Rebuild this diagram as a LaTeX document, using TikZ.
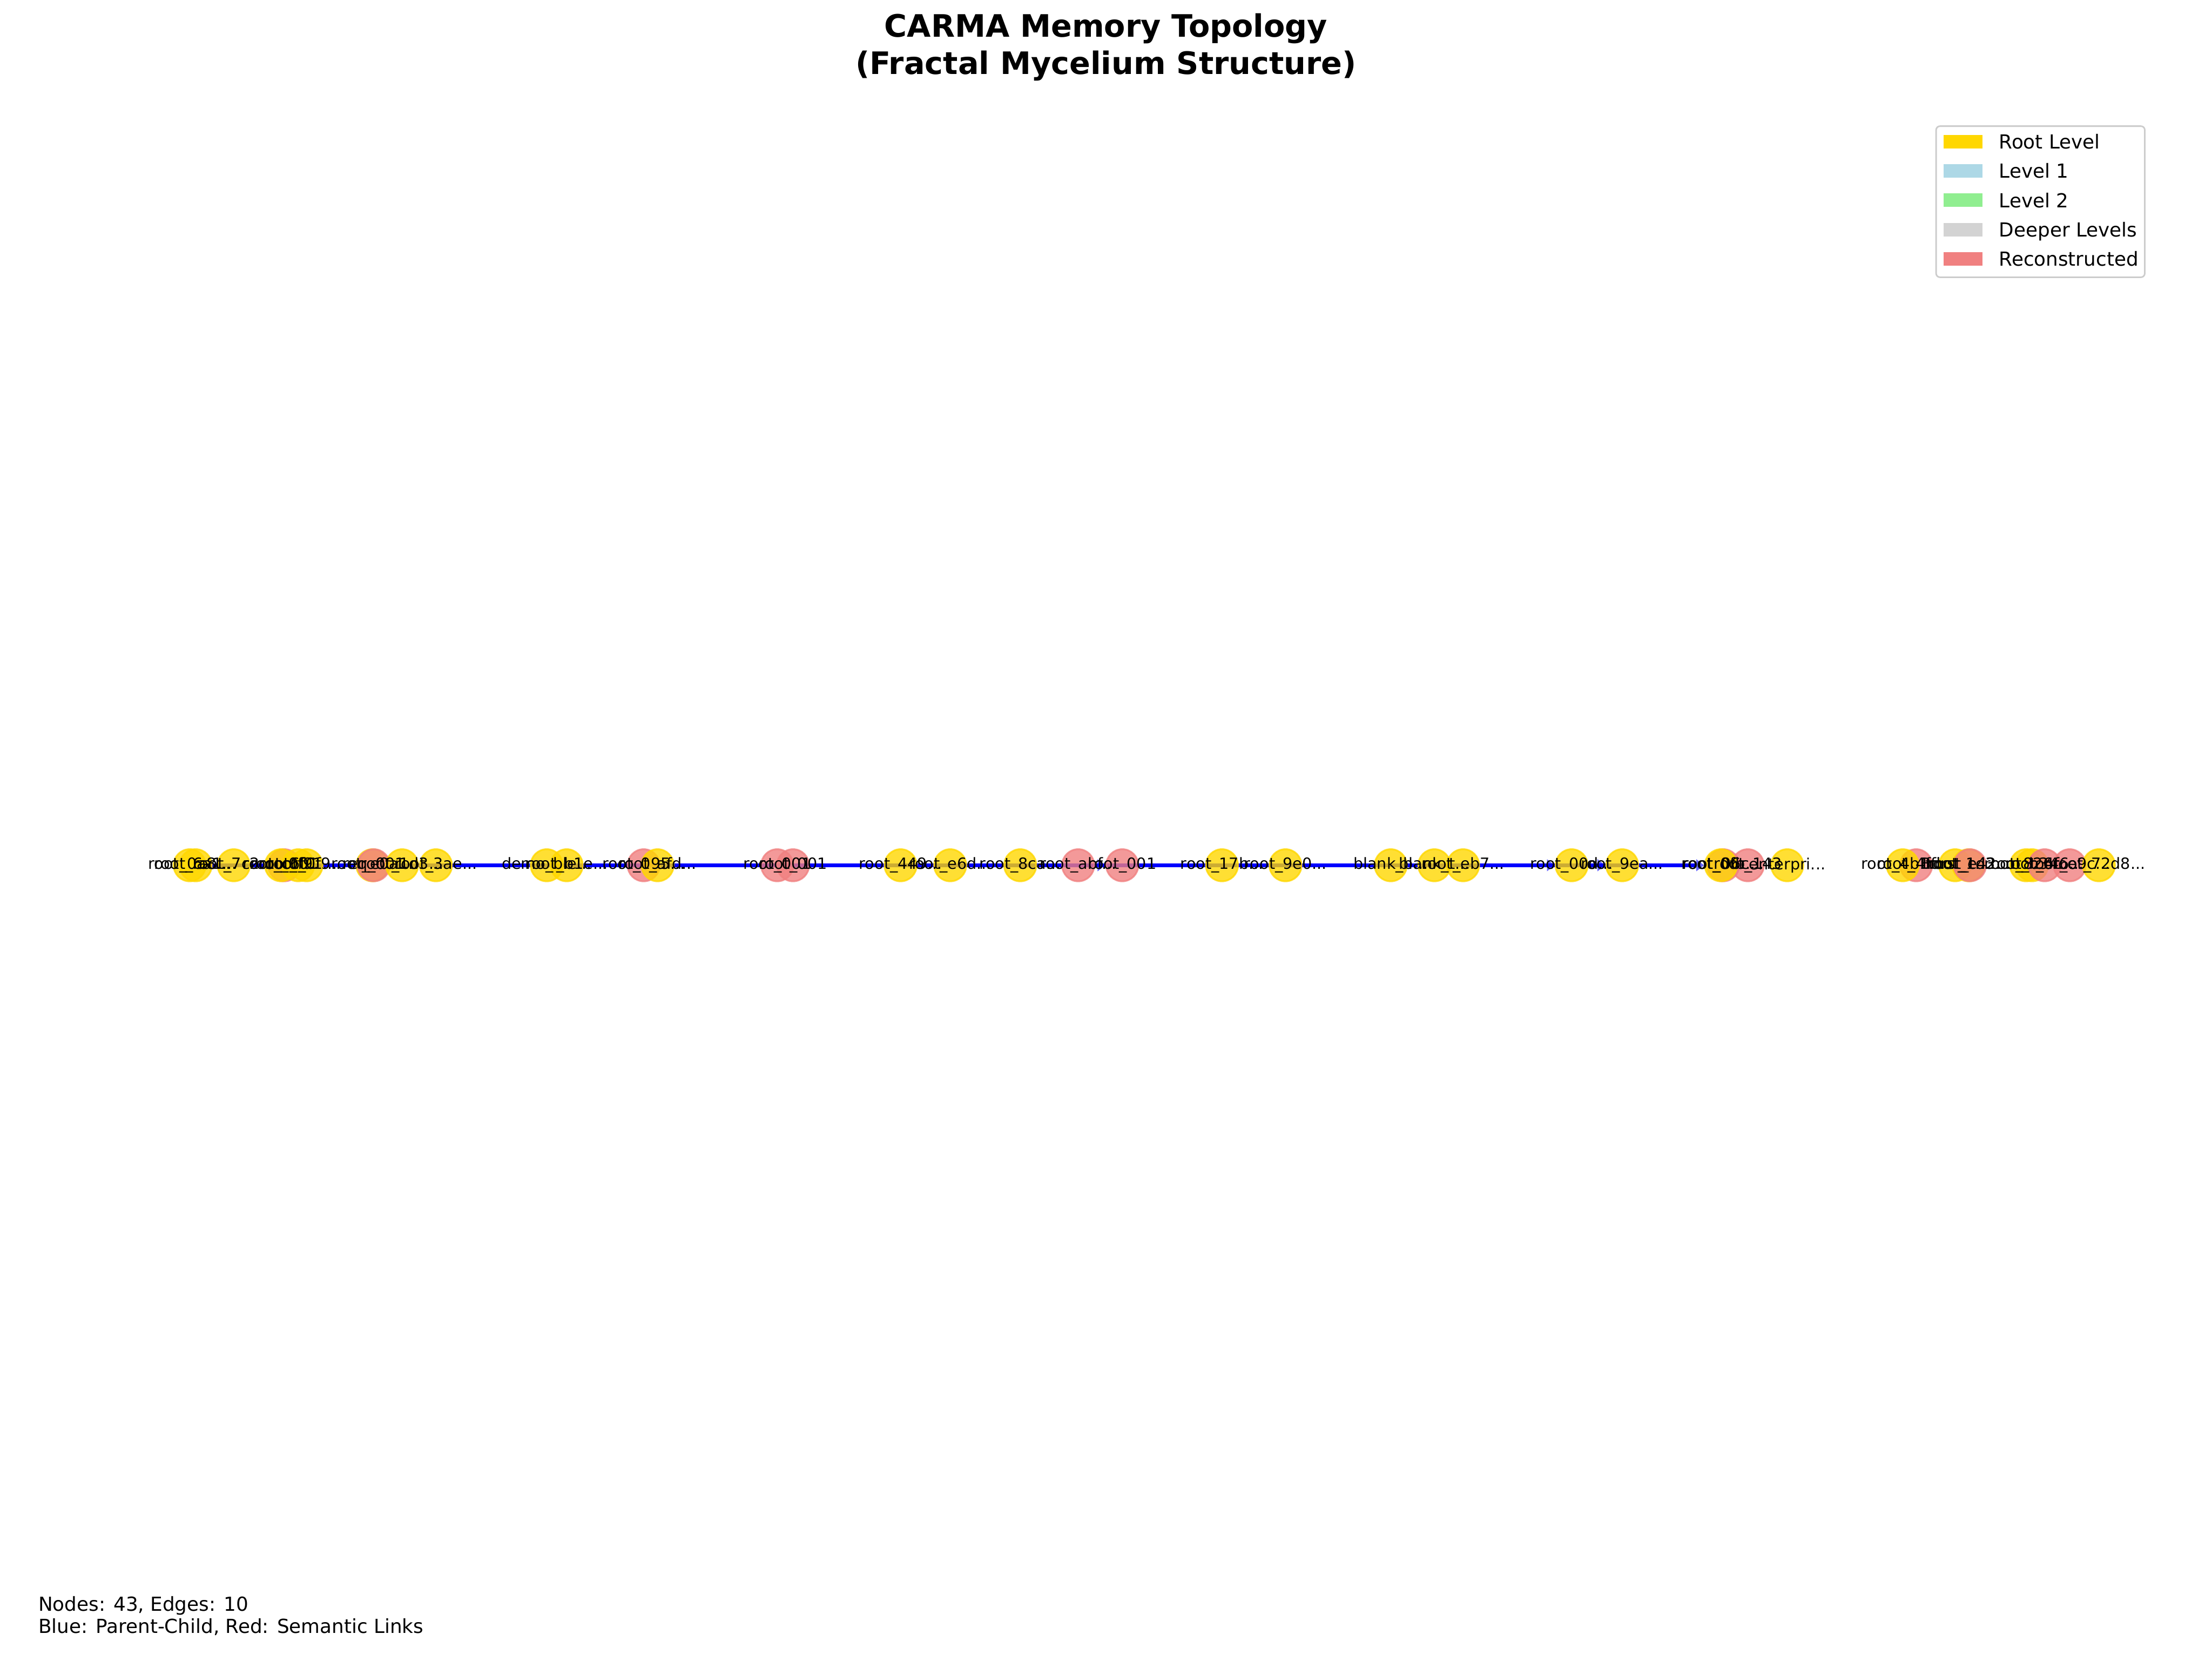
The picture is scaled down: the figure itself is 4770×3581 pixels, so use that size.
\documentclass[tikz,border=0pt]{standalone}
\usepackage{fontspec}
\setmainfont{DejaVu Sans}
\usetikzlibrary{arrows.meta,backgrounds}
\definecolor{gold}{HTML}{FFD700}
\definecolor{lblue}{HTML}{ADD8E6}
\definecolor{lgreen}{HTML}{90EE90}
\definecolor{lgray}{HTML}{D3D3D3}
\definecolor{lcoral}{HTML}{F08080}
\definecolor{edgeblue}{HTML}{0000FF}
\definecolor{tipblue}{HTML}{6666FF}
\tikzset{
  yn/.style={circle, inner sep=0pt, minimum size=16.6pt, line width=0.9pt, fill=gold, draw=gold, opacity=0.8},
  pn/.style={circle, inner sep=0pt, minimum size=16.6pt, line width=0.9pt, fill=lcoral, draw=lcoral, opacity=0.8},
  lbl/.style={inner sep=0pt, font=\fontsize{8}{9.6}\selectfont, anchor=center},
  pc/.style={draw=edgeblue, line width=1.9pt},
  pca/.style={pc, -{Triangle[length=4pt,width=6pt,color=tipblue]}},
  patch/.style={inner sep=0pt, minimum width=20.2pt, minimum height=7pt},
  legtxt/.style={anchor=west, inner sep=0pt, font=\fontsize{10}{12}\selectfont, text height=7.3pt, text depth=0pt},
  ttl/.style={anchor=base, inner sep=0pt, font=\fontsize{16}{19.2}\selectfont\bfseries},
  note/.style={anchor=base west, inner sep=0pt, font=\fontsize{10}{12}\selectfont}
}
\begin{document}
\begin{tikzpicture}[x=0.24pt, y=-0.24pt]
\useasboundingbox (0,0) rectangle (4770,3581);

% title
\node[ttl] (t1) at (2385,80) {CARMA Memory Topology};
\node[ttl] (t2) at (2385,160) {(Fractal Mycelium Structure)};

% nodes
\node[yn] (n1) at (409,1866) {};
\node[yn] (n2) at (422,1866) {};
\node[yn] (n3) at (504,1866) {};
\node[pn] (n4) at (613,1866) {};
\node[yn] (n5) at (606,1866) {};
\node[yn] (n6) at (643,1866) {};
\node[yn] (n7) at (661,1866) {};
\node[yn] (n8) at (803,1866) {};
\node[pn] (n9) at (806,1866) {};
\node[yn] (n10) at (867,1866) {};
\node[yn] (n11) at (940,1866) {};
\node[yn] (n12) at (1179,1866) {};
\node[yn] (n13) at (1222,1866) {};
\node[pn] (n14) at (1388,1866) {};
\node[yn] (n15) at (1418,1866) {};
\node[pn] (n16) at (1676,1866) {};
\node[pn] (n17) at (1710,1866) {};
\node[yn] (n18) at (1942,1866) {};
\node[yn] (n19) at (2049,1866) {};
\node[yn] (n20) at (2200,1866) {};
\node[pn] (n21) at (2325,1866) {};
\node[pn] (n22) at (2420,1866) {};
\node[yn] (n23) at (2635,1866) {};
\node[yn] (n24) at (2772,1866) {};
\node[yn] (n25) at (2999,1866) {};
\node[yn] (n26) at (3093,1866) {};
\node[yn] (n27) at (3155,1866) {};
\node[yn] (n28) at (3389,1866) {};
\node[yn] (n29) at (3498,1866) {};
\node[pn] (n30) at (3716,1866) {};
\node[pn] (n31) at (3769,1866) {};
\node[yn] (n32) at (3711,1866) {};
\node[yn] (n33) at (3854,1866) {};
\node[pn] (n34) at (4132,1866) {};
\node[yn] (n35) at (4103,1866) {};
\node[yn] (n36) at (4216,1866) {};
\node[yn] (n37) at (4245,1866) {};
\node[pn] (n38) at (4248,1866) {};
\node[yn] (n39) at (4369,1866) {};
\node[yn] (n40) at (4382,1866) {};
\node[pn] (n41) at (4409,1866) {};
\node[pn] (n42) at (4463,1866) {};
\node[yn] (n43) at (4526,1866) {};

% edges (behind the nodes)
\begin{scope}[on background layer]
\draw[pc] (n1) -- (n8);
\draw[pc] (n5) -- (n12);
\draw[pc] (n11) -- (n14);
\draw[pc] (n13) -- (n16);
\draw[pc] (n15) -- (n18);
\draw[pca] (n17) -- (n22);
\draw[pc] (n20) -- (n24);
\draw[pca] (n23) -- (n28);
\draw[pca] (n26) -- (n29);
\draw[pca] (n27) -- (n32);
\end{scope}

% labels
\node[lbl] (l1) at (n1) {root\_0a8...};
\node[lbl] (l2) at (n2) {root\_6a1...};
\node[lbl] (l3) at (n3) {root\_7c2...};
\node[lbl] (l4) at (n4) {root\_001};
\node[lbl] (l5) at (n5) {root\_c6f...};
\node[lbl] (l6) at (n6) {root\_f91...};
\node[lbl] (l7) at (n7) {root\_0f9...};
\node[lbl] (l8) at (n8) {root\_e0a...};
\node[lbl] (l9) at (n9) {req\_001};
\node[lbl] (l10) at (n10) {root\_1d3...};
\node[lbl] (l11) at (n11) {root\_3ae...};
\node[lbl] (l12) at (n12) {demo\_ble...};
\node[lbl] (l13) at (n13) {root\_b1e...};
\node[lbl] (l14) at (n14) {root\_095...};
\node[lbl] (l15) at (n15) {root\_afd...};
\node[lbl] (l16) at (n16) {root\_001};
\node[lbl] (l17) at (n17) {root\_001};
\node[lbl] (l18) at (n18) {root\_449...};
\node[lbl] (l19) at (n19) {root\_e6d...};
\node[lbl] (l20) at (n20) {root\_8ca...};
\node[lbl] (l21) at (n21) {root\_abf...};
\node[lbl] (l22) at (n22) {root\_001};
\node[lbl] (l23) at (n23) {root\_17b...};
\node[lbl] (l24) at (n24) {root\_9e0...};
\node[lbl] (l25) at (n25) {blank\_b...};
\node[lbl] (l26) at (n26) {blank\_t...};
\node[lbl] (l27) at (n27) {root\_eb7...};
\node[lbl] (l28) at (n28) {root\_00d...};
\node[lbl] (l29) at (n29) {root\_9ea...};
\node[lbl] (l30) at (n30) {root\_06c...};
\node[lbl] (l31) at (n31) {root\_143};
\node[lbl] (l32) at (n32) {root\_0fb...};
\node[lbl] (l33) at (n33) {enterpri...};
\node[lbl] (l34) at (n34) {root\_4fd...};
\node[lbl] (l35) at (n35) {root\_4b1...};
\node[lbl] (l36) at (n36) {Bfirst\_t...};
\node[lbl] (l37) at (n37) {root\_1d3...};
\node[lbl] (l38) at (n38) {root\_e42...};
\node[lbl] (l39) at (n39) {root\_826...};
\node[lbl] (l40) at (n40) {root\_b34...};
\node[lbl] (l41) at (n41) {root\_4f6...};
\node[lbl] (l42) at (n42) {root\_e9c...};
\node[lbl] (l43) at (n43) {root\_72d8...};

% legend
\node[draw=black!20, line width=0.8pt, fill=white, fill opacity=0.8, rounded corners=2pt,
      minimum width=108pt, minimum height=78.2pt, inner sep=0pt] (legend) at (4400,435) {};
\node[patch, fill=gold] (p1) at (4233,306) {};
\node[patch, fill=lblue] (p2) at (4233,369) {};
\node[patch, fill=lgreen] (p3) at (4233,432) {};
\node[patch, fill=lgray] (p4) at (4233,495) {};
\node[patch, fill=lcoral] (p5) at (4233,558) {};
\node[legtxt] (g1) at (4310,306) {Root Level};
\node[legtxt] (g2) at (4310,369) {Level 1};
\node[legtxt] (g3) at (4310,432) {Level 2};
\node[legtxt] (g4) at (4310,495) {Deeper Levels};
\node[legtxt] (g5) at (4310,558) {Reconstructed};

% footnote
\node[note] (f1) at (82,3474) {Nodes: 43, Edges: 10};
\node[note] (f2) at (82,3522) {Blue: Parent-Child, Red: Semantic Links};
\end{tikzpicture}
\end{document}
